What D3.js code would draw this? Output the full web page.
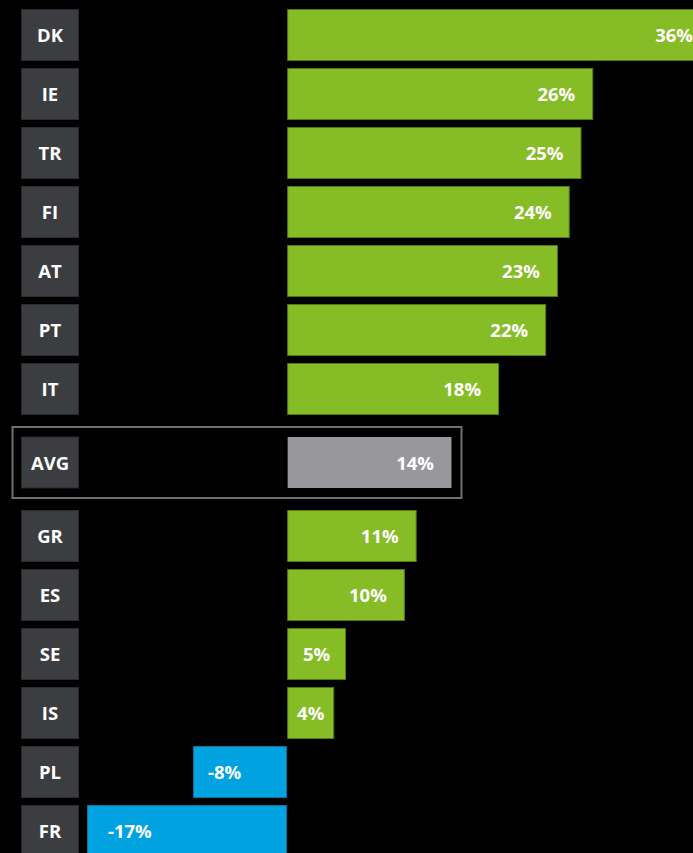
<!DOCTYPE html>
<html>
<head>
<meta charset="utf-8">
<script src="https://cdn.jsdelivr.net/npm/d3@7"></script>
<style>
  html, body { margin: 0; padding: 0; background: #000; overflow: hidden; }
  svg { display: block; }
</style>
</head>
<body>
<div id="chart"></div>
<script>
// données
const countries = ["DK", "IE", "TR", "FI", "AT", "PT", "IT", "AVG", "GR", "ES", "SE", "IS", "PL", "FR"];
const values = [36, 26, 25, 24, 23, 22, 18, 14, 11, 10, 5, 4, -8, -17];
const avgName = "AVG";

const width = 693, height = 853;
const rowStep = 59, barH = 52, avgGap = 14.5;

const svg = d3.select("#chart")
    .append("svg")
    .attr("width", width)
    .attr("height", height);

const data = countries.map((c, i) => ({ name: c, value: values[i], i: i }));
const avgIndex = countries.indexOf(avgName);

// x : zéro vers 287px
const x = d3.scaleLinear()
    .domain([-17, 36])
    .range([87, 711]);

// y : bandes, avec un espace autour de la moyenne
const yBand = d3.scaleBand()
    .domain(countries)
    .range([9, 9 + rowStep * countries.length - (rowStep - barH)])
    .paddingInner((rowStep - barH) / rowStep)
    .paddingOuter(0)
    .align(0);

function y(d) {
    let off = 0;
    if (d.i >= avgIndex) off += avgGap;
    if (d.i > avgIndex) off += avgGap;
    return yBand(d.name) + off;
}

const green = "#86bc25", greenStroke = "#4f7a14";
const blue = "#00a3e0", blueStroke = "#1a6d94";
const grey = "#98989c";
const fontSize = "18.5px";

// cadre de la moyenne
const avg = data[avgIndex];
svg.append("rect")
    .attr("x", 12.5)
    .attr("y", y(avg) - 9.5)
    .attr("width", 449)
    .attr("height", barH + 19)
    .attr("fill", "none")
    .attr("stroke", "#707072")
    .attr("stroke-width", 2);

// étiquettes pays
const labels = svg.append("g").selectAll("g")
    .data(data)
    .enter()
    .append("g");

labels.append("rect")
    .attr("x", 21.5)
    .attr("y", d => y(d) + 0.5)
    .attr("width", 57)
    .attr("height", barH - 1)
    .attr("fill", "#3c3d41")
    .attr("stroke", "#2a2b2e")
    .attr("stroke-width", 1);

labels.append("text")
    .attr("x", 50)
    .attr("y", d => y(d) + barH / 2 + 1)
    .attr("dy", "0.35em")
    .attr("text-anchor", "middle")
    .attr("fill", "#fff")
    .style("font-family", "'Open Sans', sans-serif")
    .style("font-weight", "700")
    .style("font-size", fontSize)
    .text(d => d.name);

// barres
svg.append("g").selectAll("rect")
    .data(data)
    .enter()
    .append("rect")
    .attr("x", d => Math.min(x(0), x(d.value)) + 0.5)
    .attr("y", d => y(d) + 0.5)
    .attr("width", d => Math.abs(x(d.value) - x(0)) - 1)
    .attr("height", barH - 1)
    .attr("fill", d => d.name === avgName ? grey : (d.value < 0 ? blue : green))
    .attr("stroke", d => d.name === avgName ? "none" : (d.value < 0 ? blueStroke : greenStroke))
    .attr("stroke-width", 1);

// valeurs
svg.append("g").selectAll("text")
    .data(data)
    .enter()
    .append("text")
    .attr("x", d => {
        const len = Math.abs(x(d.value) - x(0));
        if (d.value < 0) return x(d.value) + (d.value < -10 ? 21 : 15);
        if (len < 80) return x(0) + len / 2;
        return x(d.value) - 18;
    })
    .attr("y", d => y(d) + barH / 2 + 1)
    .attr("dy", "0.35em")
    .attr("text-anchor", d => {
        const len = Math.abs(x(d.value) - x(0));
        if (d.value < 0) return "start";
        if (len < 80) return "middle";
        return "end";
    })
    .attr("fill", "#fff")
    .style("font-family", "'Open Sans', sans-serif")
    .style("font-weight", "700")
    .style("font-size", fontSize)
    .text(d => d.value + "%");
</script>
</body>
</html>
